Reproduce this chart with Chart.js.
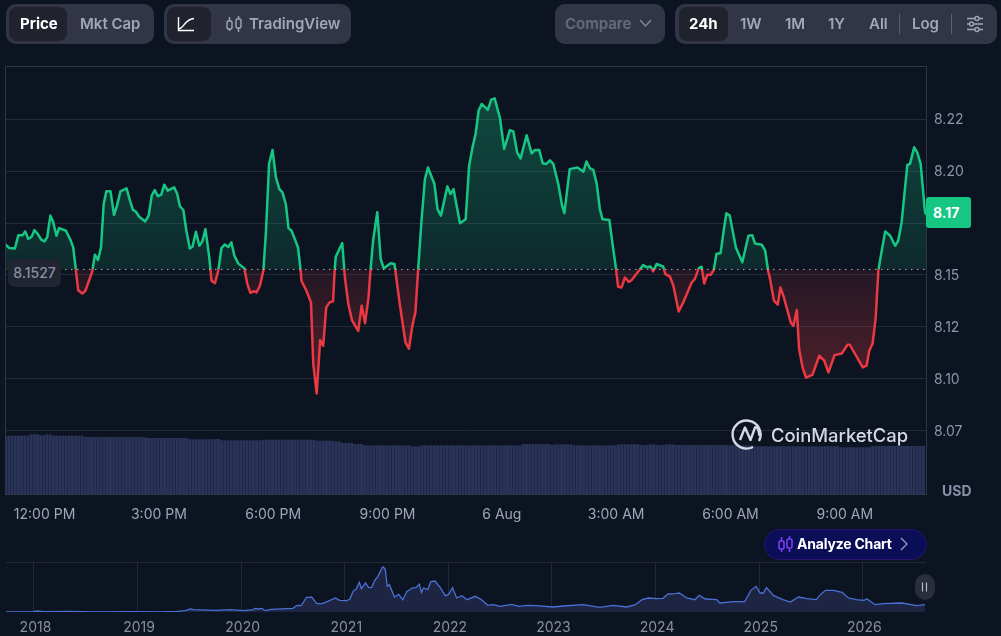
<!DOCTYPE html>
<html>
<head>
<meta charset="utf-8">
<title>Price chart</title>
<script src="https://cdn.jsdelivr.net/npm/chart.js@4/dist/chart.umd.min.js"></script>
<style>
html,body{margin:0;padding:0;background:#0d1421;overflow:hidden}
body{width:1001px;height:636px;position:relative;font-family:Inter,"Noto Sans",sans-serif}
canvas{position:absolute;left:0}
.group{position:absolute;top:4px;height:40px;background:#323545;border-radius:10px}
.sel{position:absolute;top:7px;height:34px;background:#20222e;border-radius:8px}
.t{position:absolute;top:4px;height:40px;line-height:40px;font-size:15px;font-weight:600;color:#a1a7bb;white-space:nowrap}
.sep{position:absolute;top:14px;height:20px;width:1px;background:#5a5f72}
svg{position:absolute;overflow:visible}
</style>
</head>
<body>
<canvas id="main" width="1001" height="540" style="top:0"></canvas>
<canvas id="mini" width="1001" height="96" style="top:540px"></canvas>

<div class="group" style="left:6px;width:148px"></div>
<div class="sel" style="left:9px;width:58px"></div>
<div class="t" style="left:20px;color:#fff;font-weight:700">Price</div>
<div class="t" style="left:80px">Mkt Cap</div>

<div class="group" style="left:164px;width:187px"></div>
<div class="sel" style="left:167px;width:44px"></div>
<svg style="left:0;top:0" width="1" height="1" fill="none">
  <path d="M178.5 17V30.5H194" stroke="#fff" stroke-width="1.4"/>
  <path d="M179 29C184 28 185 19 194 18.5" stroke="#fff" stroke-width="1.4"/>
  <g stroke="#a1a7bb" stroke-width="1.4">
    <rect x="227" y="21" width="5" height="8" rx="1.5"/><path d="M229.5 17V21M229.5 29V31"/>
    <rect x="236" y="19" width="5" height="9" rx="1.5"/><path d="M238.5 16V19M238.5 28V32"/>
  </g>
</svg>
<div class="t" style="left:249px">TradingView</div>

<div class="group" style="left:555px;width:110px"></div>
<div class="t" style="left:565px;color:#646b80">Compare</div>
<svg style="left:0;top:0" width="1" height="1" fill="none"><path d="M640 20L645.5 26L651 20" stroke="#80869a" stroke-width="1.5"/></svg>

<div class="group" style="left:675px;width:322px"></div>
<div class="sel" style="left:679px;width:49px"></div>
<div class="t" style="left:689px;color:#fff;font-weight:700">24h</div>
<div class="t" style="left:740px">1W</div>
<div class="t" style="left:785px">1M</div>
<div class="t" style="left:828px">1Y</div>
<div class="t" style="left:869px">All</div>
<div class="sep" style="left:899px"></div>
<div class="t" style="left:912px">Log</div>
<div class="sep" style="left:951px"></div>
<svg style="left:0;top:0" width="1" height="1" fill="none" stroke="#a1a7bb" stroke-width="1.3">
  <path d="M967 18.5H983M967 24H983M967 29.5H983"/>
  <circle cx="977" cy="18.5" r="2" fill="#323545"/><circle cx="971.5" cy="24" r="2" fill="#323545"/><circle cx="977" cy="29.5" r="2" fill="#323545"/>
</svg>

<div style="position:absolute;left:8px;top:259px;width:53px;height:28px;line-height:28px;text-align:center;background:#212431;border-radius:6px;color:#8a90a5;font-size:14px;font-weight:500">8.1527</div>
<div style="position:absolute;left:926px;top:197px;width:38px;padding-left:7px;height:31px;line-height:31px;background:#16c784;border-radius:3px;color:#fff;font-size:14px;font-weight:700">8.17</div>
<div style="position:absolute;left:942px;top:482px;color:#8a90a8;font-size:14px;font-weight:700">USD</div>

<svg style="left:0;top:0" width="1" height="1" fill="none" stroke="#d6d9e3" stroke-width="2.4">
  <path d="M759 441A14 14 0 1 0 753 447"/>
  <path d="M740 440L745 427.5L750.5 440L755 427.5C757 426 759 430 759.5 436" stroke-linejoin="round"/>
</svg>
<div style="position:absolute;left:771px;top:423px;color:#d6d9e3;font-size:18.4px;font-weight:500;line-height:24px;white-space:nowrap">CoinMarketCap</div>

<div style="position:absolute;left:764px;top:529px;width:161px;height:29px;background:#0a0e57;border:1px solid #2a1272;border-radius:16px"></div>
<svg style="left:0;top:0" width="1" height="1" fill="none" stroke="#7b3ff2" stroke-width="1.6">
  <rect x="779" y="541" width="5" height="8" rx="1.5"/><path d="M781.5 537V541M781.5 549V552"/>
  <rect x="787" y="539" width="5" height="9" rx="1.5"/><path d="M789.5 536V539M789.5 548V552"/>
  <path d="M901 538L907 544L901 550" stroke="#9a9fb5" stroke-width="1.3"/>
</svg>
<div style="position:absolute;left:797px;top:529px;height:30px;line-height:30px;color:#fff;font-size:14px;font-weight:700;white-space:nowrap;letter-spacing:-.2px">Analyze Chart</div>

<div style="position:absolute;left:915px;top:574px;width:20px;height:26px;background:#2a2d3a;border-radius:10px"></div>
<svg style="left:0;top:0" width="1" height="1" fill="none" stroke="#b5b9c6" stroke-width="1.2"><path d="M922.5 582.5V591.5M926.5 582.5V591.5"/></svg>

<script>
// hours counted from 00:00 on 5 Aug, so 24 is 6 Aug 00:00
const priceHours = [
  11.00,11.09,11.24,11.33,11.44,11.51,11.59,11.68,11.75,11.83,
  11.93,12.02,12.09,12.17,12.24,12.33,12.40,12.58,12.70,12.77,
  12.84,12.90,13.01,13.09,13.27,13.34,13.42,13.50,13.57,13.64,
  13.75,13.84,13.92,14.01,14.17,14.26,14.34,14.41,14.50,14.66,
  14.75,14.83,14.91,14.99,15.08,15.16,15.25,15.42,15.50,15.57,
  15.66,15.74,15.83,15.90,15.99,16.08,16.16,16.24,16.34,16.40,
  16.49,16.58,16.66,16.75,16.84,16.92,17.00,17.10,17.26,17.34,
  17.42,17.51,17.58,17.67,17.76,17.83,17.91,18.00,18.09,18.18,
  18.26,18.35,18.42,18.50,18.67,18.74,18.76,18.89,19.01,19.07,
  19.16,19.25,19.33,19.41,19.50,19.59,19.63,19.66,19.83,19.90,
  19.99,20.09,20.25,20.34,20.43,20.52,20.57,20.64,20.75,20.84,
  20.92,21.10,21.20,21.23,21.34,21.49,21.58,21.67,21.75,21.82,
  21.91,22.00,22.08,22.25,22.33,22.42,22.59,22.67,22.75,22.92,
  23.07,23.16,23.25,23.33,23.41,23.49,23.65,23.74,23.83,23.97,
  24.08,24.23,24.32,24.42,24.51,24.67,24.80,24.89,25.00,25.09,
  25.19,25.28,25.37,25.50,25.60,25.66,25.80,26.00,26.16,26.24,
  26.33,26.42,26.51,26.59,26.66,26.84,26.93,27.01,27.07,27.16,
  27.25,27.35,27.42,27.60,27.73,27.82,27.92,27.99,28.08,28.25,
  28.31,28.43,28.52,28.66,28.78,28.91,29.00,29.08,29.19,29.26,
  29.33,29.41,29.50,29.58,29.65,29.76,29.84,29.91,30.00,30.16,
  30.33,30.49,30.59,30.66,30.84,30.93,31.01,31.05,31.16,31.26,
  31.33,31.42,31.60,31.67,31.76,31.82,31.91,32.00,32.17,32.35,
  32.48,32.59,32.75,32.94,33.09,33.15,33.49,33.59,33.66,33.75,
  33.83,33.90,33.95,34.08,34.21,34.34,34.42,34.51,34.66,34.73,
  34.84,34.92,35.01,35.12,35.15
];
const priceValues = [
  8.1646,8.1630,8.1628,8.1691,8.1692,8.1710,8.1673,8.1684,8.1716,8.1700,
  8.1670,8.1662,8.1684,8.1786,8.1758,8.1689,8.1726,8.1713,8.1668,8.1633,
  8.1524,8.1427,8.1411,8.1424,8.1517,8.1598,8.1572,8.1633,8.1842,8.1903,
  8.1903,8.1789,8.1834,8.1903,8.1917,8.1858,8.1813,8.1806,8.1781,8.1758,
  8.1786,8.1882,8.1909,8.1880,8.1887,8.1935,8.1906,8.1922,8.1890,8.1831,
  8.1813,8.1713,8.1628,8.1636,8.1708,8.1641,8.1662,8.1721,8.1585,8.1472,
  8.1461,8.1524,8.1630,8.1647,8.1635,8.1657,8.1593,8.1556,8.1532,8.1456,
  8.1414,8.1422,8.1416,8.1448,8.1520,8.1713,8.2035,8.2102,8.1970,8.1914,
  8.1898,8.1842,8.1726,8.1713,8.1633,8.1520,8.1472,8.1424,8.1368,8.1071,
  8.0929,8.1186,8.1159,8.1344,8.1368,8.1373,8.1520,8.1588,8.1654,8.1488,
  8.1360,8.1280,8.1231,8.1352,8.1268,8.1392,8.1520,8.1665,8.1802,8.1577,
  8.1532,8.1557,8.1553,8.1512,8.1360,8.1175,8.1145,8.1255,8.1320,8.1520,
  8.1761,8.1962,8.2018,8.1938,8.1818,8.1786,8.1927,8.1890,8.1914,8.1749,
  8.1769,8.2026,8.2115,8.2179,8.2292,8.2324,8.2295,8.2345,8.2351,8.2255,
  8.2107,8.2198,8.2192,8.2091,8.2062,8.2173,8.2086,8.2102,8.2102,8.2038,
  8.2035,8.2052,8.2035,8.1938,8.1834,8.1798,8.2010,8.2018,8.1998,8.2047,
  8.2014,8.2006,8.1938,8.1818,8.1769,8.1765,8.1641,8.1537,8.1443,8.1440,
  8.1488,8.1467,8.1475,8.1517,8.1548,8.1537,8.1541,8.1517,8.1553,8.1541,
  8.1504,8.1492,8.1448,8.1324,8.1368,8.1424,8.1464,8.1480,8.1533,8.1540,
  8.1459,8.1501,8.1501,8.1524,8.1601,8.1606,8.1713,8.1797,8.1786,8.1633,
  8.1561,8.1689,8.1692,8.1652,8.1646,8.1617,8.1517,8.1488,8.1376,8.1357,
  8.1440,8.1392,8.1271,8.1255,8.1331,8.1143,8.1055,8.1006,8.1019,8.1111,
  8.1087,8.1031,8.1114,8.1122,8.1164,8.1164,8.1055,8.1063,8.1135,8.1170,
  8.1296,8.1520,8.1577,8.1710,8.1689,8.1641,8.1665,8.1753,8.2030,8.2035,
  8.2115,8.2091,8.2035,8.1810,8.1790
];
const basePrice = 8.1527;

// 5 minute volume bars
const volumeStart = 11.0;
const volumeStep = 1 / 12;
const volumes = [
  58.3,58.3,58.3,58.3,58.3,58.3,58.3,58.3,59.7,59.7,59.7,58.7,58.7,59.7,59.7,58.3,
  58.3,58.3,58.3,58.3,58.3,58.3,58.3,58.3,58.3,57,57,57,57,57,57,57,
  57,57,57,57,57,57,57,57,57,57,57,57,56.5,56,56,56,56,56,56,56,
  56,56,56,56,56,56,54.7,54.7,54.7,54.7,54.7,54.7,54.7,54.7,55,55,53.7,53.7,
  53.7,53.7,53.7,53.7,53.7,53.7,53.7,53.7,53.7,53.7,53.7,54.3,54.3,54.3,54.3,54.3,
  54.3,54.3,54.3,54.3,54.3,54.3,54.3,54.3,54.3,54.3,54.3,54.3,53.3,53.3,53.3,53.3,
  53.3,53.3,52.7,52.7,51,51,51,51,50,50,50,48.7,48.7,48.7,48.7,48.7,
  48.7,48.7,48.7,48.7,48.7,48.7,48.7,48.7,48.7,48.7,47.7,47.7,47.7,48.7,48.7,48.7,
  48.7,48.7,48.7,48.7,48.7,48.7,48.7,48.7,48.7,48.7,48.7,48.7,48.7,48.7,48.7,48.7,
  48.7,48.7,48.7,48.7,48.7,48.7,48.7,48.7,48.7,48.7,48.7,48.7,48.7,50,50,50,
  50,50,50,50,50,50,49,49.7,49.7,49.7,49.7,49.7,49.7,48.7,48.7,48.7,48.7,48.7,
  48.7,48.7,48.7,48.7,48.7,48.7,48.7,48.7,48.7,49.7,49.7,49.7,49.7,49.7,49.7,49.7,
  49,49,49,49.7,49.7,49,49,49,49.7,49.7,49.7,49,49,49,49,49,
  49,49,49,49,49,49,49,49,49,49,49,49,48.7,48.7,48.7,48.7,48.7,48.7,
  48.7,48.7,47.7,47.7,47.7,47.7,47.7,47.7,47.7,47.7,47.7,47.7,47.7,47.7,47.7,47.7,
  47.7,47.7,47.7,47.7,47.7,47.7,47.7,47.7,47.7,47.7,47.7,47.7,47.7,46.7,46.7,46.7,
  46.7,46.7,46.7,46.7,46.7,46.7,46.7,48,48,48,48,48,48,48,48,48,48,48,48,48,48,48,
  48,48
];

const timeTicks = [12, 15, 18, 21, 24, 27, 30, 33];
const timeLabels = ['12:00 PM', '3:00 PM', '6:00 PM', '9:00 PM', '6 Aug', '3:00 AM', '6:00 AM', '9:00 AM'];
const priceTicks = [8.225, 8.2, 8.175, 8.15, 8.125, 8.1, 8.075];
const priceTickLabels = ['8.22', '8.20', '', '8.15', '8.12', '8.10', '8.07'];

const historyYears = [
  2017.73,2017.99,2018.03,2018.09,2018.35,2018.57,2018.96,2019.22,2019.38,2019.46,
  2019.51,2019.54,2019.76,2019.89,2020.02,2020.12,2020.13,2020.17,2020.20,2020.23,
  2020.29,2020.50,2020.54,2020.58,2020.63,2020.65,2020.68,2020.73,2020.78,2020.83,
  2020.91,2020.95,2021.02,2021.05,2021.08,2021.11,2021.14,2021.16,2021.20,2021.23,
  2021.26,2021.29,2021.32,2021.36,2021.37,2021.39,2021.41,2021.43,2021.48,2021.52,
  2021.56,2021.60,2021.65,2021.69,2021.72,2021.74,2021.76,2021.80,2021.83,2021.87,
  2021.92,2021.97,2022.00,2022.04,2022.08,2022.13,2022.18,2022.26,2022.32,2022.38,
  2022.43,2022.50,2022.61,2022.68,2022.76,2022.85,2023.01,2023.11,2023.30,2023.46,
  2023.59,2023.72,2023.80,2023.87,2023.93,2024.01,2024.07,2024.12,2024.19,2024.23,
  2024.30,2024.38,2024.42,2024.48,2024.59,2024.62,2024.75,2024.86,2024.92,2024.97,
  2025.01,2025.04,2025.07,2025.14,2025.23,2025.30,2025.38,2025.46,2025.55,2025.60,
  2025.64,2025.72,2025.80,2025.86,2025.94,2026.01,2026.04,2026.12,2026.20,2026.38,
  2026.52,2026.60
];
const historyPrices = [
  0,0.35,1.06,0.35,0.71,0,0.35,0,0.71,1.41,
  3.18,2.47,1.77,2.47,1.41,2.47,3.89,3.18,3.89,1.41,
  2.83,3.89,7.07,6.71,15.55,15.55,15.90,8.83,8.83,10.95,
  14.84,12.37,12.01,13.78,21.91,24.38,31.44,24.73,30.74,25.79,
  26.15,33.57,37.81,46.64,47.70,45.58,27.21,28.97,15.90,18.73,
  13.07,21.91,25.44,26.15,29.68,20.85,25.44,23.67,32.15,32.86,
  26.15,17.31,18.37,25.79,14.84,17.31,13.07,16.61,13.07,7.07,
  7.77,6.01,8.13,6.01,7.07,6.71,5.30,6.36,7.77,4.95,
  7.07,5.30,7.42,13.07,14.84,14.13,14.49,19.08,19.43,20.14,
  14.84,13.07,17.67,13.78,13.07,9.54,10.95,10.95,22.96,27.21,
  20.14,20.14,25.79,17.31,13.07,10.60,15.90,14.13,13.07,19.43,
  22.96,22.96,20.85,14.84,13.07,12.37,13.78,7.77,8.83,9.54,
  6.71,7.77
];
const yearTicks = [2018, 2019, 2020, 2021, 2022, 2023, 2024, 2025, 2026];

const green = '#16c784';
const red = '#ea3943';
const axisFont = { family: 'Inter', size: 14 };

const mainChart = new Chart(document.getElementById('main'), {
  type: 'line',
  data: {
    datasets: [
      {
        data: priceHours.map((h, i) => ({ x: h, y: priceValues[i] })),
        borderColor: green,
        borderWidth: 2.5,
        borderJoinStyle: 'round',
        pointRadius: 0,
        tension: 0,
        fill: { target: { value: basePrice }, above: 'rgba(22,199,132,.2)', below: 'rgba(234,57,67,.2)' },
        yAxisID: 'y',
        order: 1
      },
      {
        data: [{ x: 10.98, y: basePrice }, { x: 35.15, y: basePrice }],
        borderColor: 'rgba(225,230,240,.75)',
        borderWidth: 1,
        borderDash: [1.5, 4.5],
        pointRadius: 0,
        yAxisID: 'y',
        order: 0
      },
      {
        type: 'bar',
        data: volumes.map((v, i) => ({ x: volumeStart + i * volumeStep, y: v })),
        backgroundColor: '#2a3358',
        barPercentage: 0.94,
        categoryPercentage: 1,
        yAxisID: 'vol',
        order: 2
      }
    ]
  },
  options: {
    responsive: false,
    animation: false,
    devicePixelRatio: 1,
    layout: { padding: { left: 5, top: 66, right: 0, bottom: 0 } },
    plugins: { legend: { display: false }, tooltip: { enabled: false } },
    scales: {
      x: {
        type: 'linear',
        offset: false,
        min: 10.98,
        max: 35.15,
        afterBuildTicks: s => { s.ticks = timeTicks.map(v => ({ value: v })); },
        afterFit: s => { s.height = 46; },
        grid: { display: false, offset: false },
        border: { color: '#2f3647' },
        ticks: {
          autoSkip: false,
          maxRotation: 0,
          padding: 4,
          labelOffset: 0.7,
          color: '#a0a6b8',
          font: axisFont,
          callback: v => timeLabels[timeTicks.indexOf(v)]
        }
      },
      y: {
        position: 'right',
        min: 8.04451,
        max: 8.25067,
        afterBuildTicks: s => { s.ticks = priceTicks.map(v => ({ value: v })); },
        afterFit: s => { s.width = 75; },
        grid: { color: '#232a3a', drawTicks: false },
        border: { color: '#2f3647' },
        ticks: {
          padding: 8,
          color: '#8d94ab',
          font: { family: 'Inter', size: 14, lineHeight: '2px' },
          // empty first line nudges the digits down 1px onto the grid line
          callback: v => ['', priceTickLabels[priceTicks.indexOf(v)]]
        }
      },
      vol: { display: false, min: 0, max: 428 }
    }
  },
  plugins: [{
    id: 'plotTop',
    afterDraw(chart) {
      const { ctx, chartArea: a } = chart;
      ctx.save();
      ctx.strokeStyle = '#2f3647';
      ctx.beginPath();
      ctx.moveTo(a.left + 0.5, a.bottom);
      ctx.lineTo(a.left + 0.5, a.top + 0.5);
      ctx.lineTo(a.right + 0.5, a.top + 0.5);
      ctx.stroke();
      ctx.restore();
    }
  }]
});

// the colour split and the fades need the finished scale
function paintPrice(chart) {
  const y = chart.scales.y;
  const ctx = chart.ctx;
  const baseY = y.getPixelForValue(basePrice);
  const topY = y.getPixelForValue(8.235);
  const lowY = y.getPixelForValue(8.1);

  const line = ctx.createLinearGradient(0, topY, 0, lowY);
  const split = (baseY - topY) / (lowY - topY);
  line.addColorStop(0, green);
  line.addColorStop(split, green);
  line.addColorStop(split, red);
  line.addColorStop(1, red);

  const above = ctx.createLinearGradient(0, topY, 0, baseY);
  above.addColorStop(0, 'rgba(22,199,132,.30)');
  above.addColorStop(1, 'rgba(22,199,132,.12)');

  const below = ctx.createLinearGradient(0, baseY, 0, lowY);
  below.addColorStop(0, 'rgba(234,57,67,.10)');
  below.addColorStop(1, 'rgba(234,57,67,.30)');

  const ds = chart.data.datasets[0];
  ds.borderColor = line;
  ds.fill = { target: { value: basePrice }, above, below };
  chart.update('none');
}
paintPrice(mainChart);

new Chart(document.getElementById('mini'), {
  type: 'line',
  data: {
    datasets: [{
      data: historyYears.map((yr, i) => ({ x: yr, y: historyPrices[i] })),
      borderColor: '#4a70d8',
      borderWidth: 1.3,
      pointRadius: 0,
      tension: 0,
      fill: 'start',
      backgroundColor: '#1e2542'
    }]
  },
  options: {
    responsive: false,
    animation: false,
    devicePixelRatio: 1,
    layout: { padding: { left: 6, top: 22, right: 75, bottom: 0 } },
    plugins: { legend: { display: false }, tooltip: { enabled: false } },
    scales: {
      x: {
        type: 'linear',
        min: 2017.73,
        max: 2026.61,
        afterBuildTicks: s => { s.ticks = yearTicks.map(v => ({ value: v })); },
        afterFit: s => { s.height = 24; },
        grid: { color: '#232736', drawTicks: false },
        border: { display: false },
        ticks: {
          autoSkip: false,
          maxRotation: 0,
          padding: 7,
          labelOffset: 1.5,
          color: '#8a8f9e',
          font: axisFont,
          callback: v => String(v)
        }
      },
      y: {
        min: 0,
        max: 53,
        afterBuildTicks: s => { s.ticks = [{ value: 53 }]; },
        afterFit: s => { s.width = 0; },
        grid: { color: '#232736', drawTicks: false },
        border: { display: false },
        ticks: { display: false }
      }
    }
  }
});
</script>
</body>
</html>
